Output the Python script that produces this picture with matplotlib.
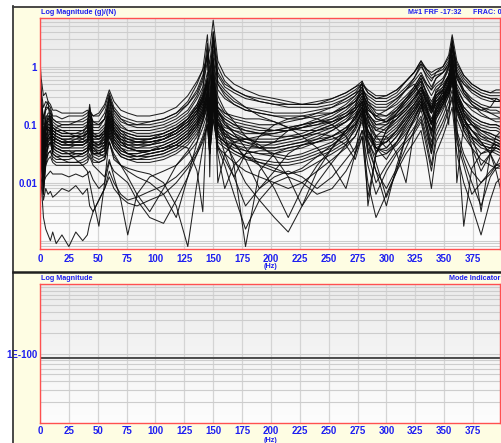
import matplotlib.pyplot as plt
import numpy as np
from matplotlib.patches import Rectangle
from matplotlib.lines import Line2D
from matplotlib.colors import LinearSegmentedColormap
from matplotlib.ticker import FixedLocator, NullFormatter

# frequency grid (Hz) shared by all FRF traces
freq_hz = [0, 1, 3, 5, 7, 9, 11, 14,
           19, 25, 31, 37, 41, 43, 46, 51,
           56, 60, 64, 70, 76, 84, 95, 107,
           118, 128, 136, 141, 145, 147, 150, 154,
           160, 168, 178, 190, 203, 215, 227, 240,
           253, 265, 273, 279, 284, 291, 300, 309,
           317, 324, 330, 335, 339, 343, 349, 354,
           357, 361, 367, 374, 382, 390, 395, 400]

# FRF magnitudes in dB re 1 (g)/(N)
frf_01 = [2, -4, -10, -9, -12, -13, -15, -15, -16, -16, -16, -16, -15, -16, -17, -16,
          -13, -8, -12, -15, -16, -17, -17, -16, -14, -10, -5, -1, 3, 6, 16, 2,
          -3, -6, -8, -10, -11, -12, -13, -13, -12, -10, -8, -6, -8, -10, -10, -8,
          -5, -2, 1, -1, -2, -1, 0, 4, 11, 2, -3, -6, -8, -9, -9, -9]
frf_02 = [-2, -8, -14, -12, -13, -14, -17, -17, -18, -17, -17, -17, -16, -15, -17, -17,
          -14, -9, -14, -17, -18, -19, -19, -18, -16, -12, -6, -1, 11, -2, 8, -2,
          -6, -8, -10, -11, -12, -13, -13, -13, -11, -9, -7, -5, -9, -11, -11, -9,
          -5, -2, 2, -2, -4, -3, -2, 1, 6, -1, -5, -8, -10, -11, -11, -12]
frf_03 = [0, -10, -20, -15, -14, -15, -18, -19, -19, -19, -19, -18, -17, -15, -19, -19,
          -16, -10, -15, -18, -19, -20, -20, -19, -17, -13, -8, -3, 4, 1, 12, 0,
          -5, -8, -10, -12, -13, -14, -14, -14, -13, -11, -9, -8, -10, -12, -12, -10,
          -7, -4, 0, -3, -5, -2, -1, 2, 8, 0, -4, -7, -9, -10, -10, -10]
frf_04 = [-4, -12, -18, -14, -14, -16, -18, -19, -20, -20, -19, -19, -18, -17, -19, -20,
          -18, -11, -15, -18, -20, -21, -21, -20, -18, -15, -10, -5, 8, -4, 10, -3,
          -7, -9, -11, -12, -13, -13, -13, -12, -11, -9, -7, -6, -9, -11, -10, -8,
          -5, -2, 2, -1, -3, -2, 0, 3, 8, 1, -3, -6, -8, -9, -8, -8]
frf_05 = [-8, -14, -25, -18, -16, -16, -19, -20, -21, -21, -21, -21, -20, -14, -21, -21,
          -18, -12, -17, -20, -22, -22, -22, -21, -19, -16, -11, -7, 2, -6, 6, -6,
          -9, -12, -14, -15, -16, -16, -16, -15, -14, -12, -10, -7, -12, -14, -14, -11,
          -8, -5, -2, -6, -8, -4, -2, 1, 7, -2, -6, -9, -11, -12, -12, -12]
frf_06 = [-5, -16, -30, -20, -17, -17, -20, -21, -22, -22, -22, -22, -21, -18, -22, -22,
          -20, -13, -18, -21, -22, -23, -23, -22, -20, -17, -13, -9, -2, -10, 3, -8,
          -11, -13, -15, -16, -17, -17, -17, -16, -16, -14, -12, -9, -13, -15, -15, -13,
          -10, -7, -3, -7, -10, -7, -5, -1, 4, -4, -8, -11, -13, -14, -14, -14]
frf_07 = [-10, -18, -35, -22, -18, -17, -21, -22, -23, -23, -23, -23, -22, -20, -24, -24,
          -22, -14, -19, -22, -23, -24, -24, -23, -21, -18, -14, -10, -4, -14, 2, -10,
          -15, -19, -24, -28, -26, -22, -20, -19, -19, -17, -15, -11, -15, -17, -17, -15,
          -12, -9, -5, -9, -12, -9, -7, -3, 3, -6, -10, -13, -15, -16, -16, -16]
frf_08 = [-6, -14, -22, -17, -17, -18, -21, -22, -23, -23, -23, -22, -21, -19, -23, -23,
          -21, -15, -19, -22, -24, -25, -25, -24, -22, -19, -15, -11, -6, -12, 0, -12,
          -16, -18, -19, -20, -20, -19, -18, -16, -14, -11, -9, -6, -18, -30, -22, -16,
          -12, -8, -4, -9, -14, -10, -7, -3, 2, -8, -12, -15, -17, -18, -18, -18]
frf_09 = [-12, -20, -28, -20, -19, -18, -22, -23, -24, -24, -24, -23, -20, -13, -23, -24,
          -23, -16, -20, -23, -25, -26, -26, -25, -23, -20, -16, -12, -5, -15, -2, -14,
          -17, -19, -20, -21, -22, -21, -20, -18, -16, -13, -10, -7, -12, -16, -17, -14,
          -11, -8, -5, -14, -20, -10, -8, -4, 1, -9, -14, -17, -19, -20, -20, -21]
frf_10 = [-15, -20, -30, -22, -20, -19, -23, -24, -25, -25, -25, -24, -23, -21, -25, -25,
          -24, -17, -21, -24, -26, -27, -27, -26, -24, -21, -17, -13, -8, -18, -4, -16,
          -18, -20, -22, -23, -24, -24, -23, -21, -19, -16, -13, -9, -14, -18, -19, -16,
          -13, -10, -7, -10, -13, -9, -5, 0, 10, -3, -9, -13, -16, -18, -19, -19]
frf_11 = [-9, -16, -24, -19, -20, -20, -23, -24, -25, -26, -26, -26, -25, -22, -26, -26,
          -24, -18, -22, -25, -27, -28, -28, -27, -25, -22, -18, -14, -9, -20, -6, -18,
          -22, -26, -32, -42, -36, -30, -27, -25, -22, -19, -15, -11, -16, -20, -20, -18,
          -15, -12, -8, -12, -15, -12, -10, -6, -1, -11, -16, -19, -21, -22, -22, -23]
frf_12 = [-14, -22, -32, -24, -21, -20, -24, -25, -26, -26, -26, -25, -23, -18, -26, -27,
          -26, -19, -23, -26, -28, -29, -29, -28, -27, -28, -36, -50, -10, -22, -8, -20,
          -23, -25, -26, -27, -27, -26, -25, -23, -21, -18, -15, -12, -17, -21, -22, -19,
          -16, -13, -10, -14, -16, -13, -11, -7, -2, -12, -17, -20, -22, -23, -24, -24]
frf_13 = [-18, -24, -34, -26, -22, -21, -24, -25, -26, -27, -27, -27, -26, -24, -27, -27,
          -24, -10, -22, -26, -28, -29, -30, -29, -27, -24, -20, -16, -11, -22, -8, -21,
          -24, -26, -27, -28, -28, -27, -26, -24, -22, -19, -16, -13, -20, -24, -24, -21,
          -17, -14, -11, -16, -20, -16, -13, -9, -4, -14, -19, -22, -24, -25, -25, -26]
frf_14 = [-11, -18, -26, -20, -22, -22, -24, -25, -26, -26, -26, -26, -25, -23, -27, -28,
          -27, -20, -24, -27, -28, -28, -27, -25, -22, -18, -14, -10, -4, -16, -4, -15,
          -18, -20, -21, -22, -22, -22, -21, -20, -18, -15, -12, -9, -13, -17, -19, -17,
          -14, -11, -7, -11, -14, -11, -8, -4, 2, -7, -12, -14, -15, -14, -11, -12]
frf_15 = [-20, -26, -38, -28, -24, -22, -26, -27, -28, -28, -28, -28, -27, -25, -28, -29,
          -28, -21, -25, -28, -30, -31, -31, -30, -28, -25, -21, -17, -12, -24, -10, -22,
          -25, -27, -29, -30, -30, -29, -28, -26, -24, -21, -18, -14, -22, -27, -26, -22,
          -18, -15, -12, -20, -28, -18, -14, -10, -5, -16, -22, -26, -30, -28, -26, -27]
frf_16 = [-13, -20, -30, -22, -21, -21, -25, -26, -27, -27, -27, -27, -26, -24, -27, -27,
          -26, -19, -23, -26, -27, -27, -27, -26, -24, -21, -17, -13, -7, -19, -5, -17,
          -20, -22, -24, -27, -31, -38, -48, -36, -28, -22, -17, -12, -17, -22, -23, -20,
          -16, -13, -9, -13, -16, -13, -10, -6, -1, -11, -16, -20, -23, -25, -26, -27]
frf_17 = [-22, -28, -40, -30, -26, -24, -28, -29, -30, -30, -29, -29, -28, -26, -29, -30,
          -29, -22, -26, -29, -30, -30, -29, -27, -25, -22, -18, -14, -9, -20, -7, -18,
          -21, -22, -23, -23, -22, -21, -20, -19, -18, -16, -14, -10, -16, -20, -19, -15,
          -11, -8, -4, -10, -15, -8, -6, -3, 1, -10, -15, -18, -20, -21, -21, -22]
frf_18 = [-25, -30, -42, -32, -28, -26, -30, -31, -32, -32, -31, -30, -29, -27, -30, -30,
          -29, -23, -27, -30, -31, -32, -32, -31, -29, -26, -22, -18, -13, -26, -12, -24,
          -26, -27, -28, -28, -28, -27, -26, -25, -24, -22, -20, -15, -25, -33, -45, -36,
          -24, -18, -13, -18, -24, -16, -12, -8, -3, -14, -20, -24, -27, -28, -28, -29]
frf_19 = [-16, -24, -36, -26, -24, -23, -27, -28, -29, -29, -30, -30, -29, -27, -30, -30,
          -27, -20, -25, -28, -30, -31, -30, -29, -27, -24, -20, -16, -10, -22, -8, -20,
          -22, -24, -26, -28, -30, -31, -30, -28, -26, -22, -18, -13, -22, -28, -32, -26,
          -20, -16, -12, -17, -22, -16, -12, -7, -2, -12, -18, -24, -34, -30, -27, -28]
frf_20 = [-24, -30, -44, -32, -27, -26, -30, -31, -31, -31, -31, -31, -30, -28, -31, -32,
          -31, -24, -28, -31, -32, -33, -33, -32, -30, -27, -23, -19, -14, -26, -12, -24,
          -26, -28, -29, -30, -31, -32, -31, -29, -27, -24, -20, -15, -24, -29, -28, -24,
          -20, -16, -12, -16, -20, -15, -11, -6, 0, -20, -55, -35, -30, -29, -29, -30]
frf_21 = [-26, -32, -44, -34, -30, -29, -32, -33, -33, -33, -33, -33, -32, -30, -33, -33,
          -32, -26, -31, -34, -35, -36, -37, -40, -48, -62, -40, -28, -20, -30, -14, -26,
          -28, -30, -32, -33, -34, -34, -33, -31, -29, -26, -22, -17, -26, -31, -30, -27,
          -23, -19, -15, -22, -28, -20, -15, -10, -6, -18, -24, -28, -32, -34, -35, -35]
frf_22 = [-28, -32, -38, -34, -32, -31, -33, -34, -34, -34, -34, -34, -33, -31, -34, -36,
          -38, -32, -38, -46, -58, -44, -38, -36, -34, -30, -26, -21, -16, -27, -14, -25,
          -27, -29, -31, -33, -35, -37, -36, -33, -30, -27, -24, -18, -30, -40, -34, -29,
          -25, -21, -17, -24, -30, -22, -17, -12, -8, -22, -30, -36, -40, -37, -34, -33]
frf_23 = [-30, -34, -40, -38, -37, -36, -37, -37, -37, -38, -37, -38, -37, -36, -39, -42,
          -40, -33, -36, -38, -40, -46, -52, -54, -46, -38, -30, -25, -20, -30, -18, -28,
          -30, -33, -36, -38, -40, -42, -40, -36, -32, -28, -24, -19, -28, -36, -42, -35,
          -28, -22, -18, -26, -34, -24, -19, -14, -10, -24, -32, -40, -48, -38, -35, -34]
frf_24 = [-32, -38, -46, -42, -44, -43, -45, -44, -42, -43, -41, -44, -42, -48, -50, -46,
          -42, -36, -40, -44, -46, -45, -43, -41, -38, -34, -29, -24, -18, -28, -16, -27,
          -32, -38, -48, -42, -38, -36, -38, -42, -38, -32, -28, -22, -34, -44, -36, -30,
          -26, -23, -19, -28, -36, -26, -21, -15, -11, -26, -34, -44, -40, -36, -34, -34]
frf_25 = [-30, -40, -52, -56, -58, -60, -57, -61, -58, -62, -57, -60, -58, -54, -50, -46,
          -42, -38, -42, -45, -47, -48, -46, -44, -40, -35, -30, -26, -20, -30, -18, -28,
          -34, -44, -56, -46, -40, -38, -40, -44, -42, -36, -30, -24, -40, -52, -44, -36,
          -30, -26, -22, -32, -42, -30, -24, -18, -14, -30, -40, -48, -58, -46, -40, -38]
frf_26 = [-12, -18, -28, -22, -20, -20, -23, -24, -25, -25, -24, -24, -23, -21, -24, -25,
          -23, -17, -21, -24, -25, -25, -25, -24, -22, -19, -15, -11, -6, -16, -3, -15,
          -19, -23, -28, -34, -42, -52, -42, -34, -28, -22, -17, -12, -48, -30, -22, -18,
          -14, -11, -7, -12, -16, -12, -9, -5, 0, -10, -15, -19, -22, -24, -25, -26]
frf_27 = [-7, -14, -24, -18, -18, -19, -22, -23, -24, -24, -24, -24, -23, -20, -24, -24,
          -22, -16, -20, -23, -24, -25, -25, -24, -22, -19, -15, -11, -6, -17, -3, -16,
          -19, -21, -22, -23, -23, -22, -21, -19, -17, -14, -11, -8, -11, -13, -13, -11,
          -8, -6, -10, -22, -30, -14, -8, -3, 3, -8, -16, -28, -50, -30, -24, -22]
frf_28 = [-18, -24, -32, -26, -24, -23, -26, -27, -28, -28, -27, -27, -26, -24, -28, -28,
          -26, -19, -23, -26, -27, -27, -26, -25, -23, -20, -16, -12, -7, -18, -4, -16,
          -24, -34, -62, -36, -30, -28, -27, -26, -24, -21, -18, -14, -20, -25, -25, -22,
          -18, -14, -10, -14, -18, -14, -11, -7, -3, -13, -18, -22, -26, -30, -36, -44]
frf_29 = [-20, -26, -36, -28, -25, -24, -27, -28, -29, -30, -32, -34, -36, -40, -46, -55,
          -40, -24, -28, -31, -32, -32, -31, -30, -28, -25, -21, -17, -12, -24, -10, -30,
          -42, -34, -30, -29, -29, -28, -27, -26, -25, -23, -20, -16, -22, -26, -26, -23,
          -19, -15, -11, -15, -19, -15, -12, -8, -4, -14, -20, -24, -27, -28, -28, -29]
frf_30 = [-1, -10, -18, -14, -12, -20, -30, -21, -20, -20, -20, -20, -19, -17, -20, -20,
          -18, -11, -16, -19, -20, -20, -19, -18, -16, -13, -9, -4, 4, -8, 10, -5,
          -8, -11, -14, -17, -19, -21, -22, -22, -21, -19, -17, -14, -17, -19, -18, -15,
          -11, -7, -3, -6, -8, -6, -4, 0, 6, -4, -9, -12, -14, -15, -15, -16]
frf_31 = [-10, -17, -26, -20, -19, -19, -22, -23, -24, -24, -24, -24, -22, -16, -24, -24,
          -22, -15, -19, -22, -23, -24, -24, -23, -21, -18, -13, -8, 6, -38, 12, -6,
          -10, -13, -15, -16, -17, -18, -18, -17, -16, -14, -12, -8, -14, -18, -19, -17,
          -14, -11, -8, -12, -14, -10, -8, -20, 9, -2, -8, -12, -14, -16, -17, -18]
frf_32 = [-14, -21, -30, -24, -22, -21, -24, -25, -26, -26, -26, -26, -25, -22, -26, -26,
          -25, -18, -22, -25, -26, -26, -26, -25, -23, -20, -16, -11, -4, -14, 4, -40,
          -30, -26, -25, -25, -25, -24, -24, -22, -20, -17, -14, -5, -30, -24, -21, -18,
          -15, -11, -8, -12, -15, -12, -9, -5, 5, -40, -20, -20, -22, -23, -24, -25]
frf_33 = [-16, -22, -30, -24, -22, -22, -25, -26, -27, -27, -27, -27, -26, -23, -27, -28,
          -27, -20, -24, -27, -28, -29, -29, -28, -26, -23, -19, -15, -9, -21, -7, -19,
          -23, -27, -31, -34, -36, -37, -35, -31, -27, -23, -19, -14, -19, -22, -20, -16,
          -12, -9, -6, -11, -15, -11, -8, -4, 2, -9, -14, -17, -19, -20, -20, -21]
frf_34 = [-22, -28, -38, -30, -27, -26, -29, -30, -31, -31, -30, -30, -29, -27, -30, -31,
          -30, -23, -27, -30, -31, -31, -30, -29, -27, -24, -20, -16, -11, -23, -9, -22,
          -30, -38, -30, -24, -20, -18, -17, -18, -20, -24, -30, -22, -26, -36, -48, -34,
          -24, -18, -13, -20, -26, -18, -13, -8, -3, -14, -20, -24, -26, -27, -27, -28]
frf_35 = [-17, -23, -32, -25, -23, -22, -25, -26, -27, -27, -26, -26, -25, -22, -26, -27,
          -25, -18, -22, -25, -26, -26, -25, -23, -21, -18, -14, -10, -5, -17, -2, -14,
          -16, -17, -18, -18, -19, -21, -24, -28, -34, -42, -30, -16, -24, -28, -26, -22,
          -17, -13, -9, -15, -20, -14, -10, -6, -1, -12, -18, -22, -25, -26, -27, -27]
frf_36 = [-26, -30, -36, -32, -30, -29, -31, -32, -32, -33, -33, -32, -31, -28, -32, -33,
          -32, -26, -30, -34, -38, -44, -50, -42, -34, -29, -24, -19, -13, -25, -11, -23,
          -26, -29, -31, -32, -33, -33, -32, -30, -28, -25, -21, -16, -23, -28, -29, -26,
          -22, -18, -14, -18, -22, -17, -13, -9, -5, -15, -21, -25, -28, -29, -30, -31]
frf_37 = [-8, -15, -24, -19, -18, -18, -21, -22, -22, -23, -24, -25, -26, -25, -28, -30,
          -31, -26, -32, -34, -36, -38, -40, -44, -52, -38, -26, -18, -10, -22, -6, -20,
          -24, -25, -25, -24, -23, -22, -21, -20, -19, -17, -15, -12, -18, -24, -28, -24,
          -19, -15, -11, -15, -19, -15, -11, -7, -2, -12, -18, -22, -26, -30, -34, -30]
frf_38 = [-12, -19, -28, -22, -21, -21, -24, -25, -26, -26, -25, -25, -24, -21, -25, -25,
          -23, -17, -21, -24, -25, -26, -26, -25, -23, -20, -16, -12, -6, -17, -3, -15,
          -20, -23, -25, -26, -26, -25, -24, -23, -24, -27, -32, -24, -45, -30, -24, -30,
          -40, -22, -14, -18, -22, -15, -10, -6, 0, -10, -16, -20, -24, -26, -27, -28]
frf_39 = [-20, -26, -34, -28, -26, -25, -28, -29, -30, -30, -30, -30, -29, -26, -30, -30,
          -29, -22, -26, -29, -30, -30, -29, -28, -26, -23, -19, -15, -9, -21, -7, -19,
          -22, -24, -25, -26, -26, -25, -24, -22, -20, -17, -14, -10, -15, -17, -15, -12,
          -8, -4, 1, -4, -7, -4, -2, 0, 4, -3, -6, -8, -10, -11, -12, -12]
frf_40 = [-19, -25, -33, -27, -25, -24, -27, -28, -29, -29, -29, -29, -28, -26, -29, -29,
          -28, -21, -25, -28, -29, -29, -29, -28, -26, -23, -19, -15, -9, -21, -7, -19,
          -26, -32, -40, -46, -52, -57, -48, -40, -33, -27, -21, -15, -22, -28, -30, -26,
          -21, -17, -13, -18, -23, -17, -13, -9, -4, -15, -22, -28, -36, -30, -28, -29]

# mode indicator panel (single flat trace)
mode_ind_hz = [0, 400]
mode_ind_val = [8.5e-101, 8.5e-101]

freq_ticks = list(range(0, 400, 25))

frf_traces = [frf_01, frf_02, frf_03, frf_04, frf_05, frf_06, frf_07, frf_08,
              frf_09, frf_10, frf_11, frf_12, frf_13, frf_14, frf_15, frf_16,
              frf_17, frf_18, frf_19, frf_20, frf_21, frf_22, frf_23, frf_24,
              frf_25, frf_26, frf_27, frf_28, frf_29, frf_30, frf_31, frf_32,
              frf_33, frf_34, frf_35, frf_36, frf_37, frf_38, frf_39, frf_40]

plt.rcParams['font.family'] = ['Liberation Sans Narrow', 'Liberation Sans', 'DejaVu Sans']
plt.rcParams['font.weight'] = 'bold'

W, H = 502, 443
BLUE = '#1f1ff0'
CREAM = '#fefde3'

def fx(px):
    return px / W

def fy(py):
    return 1 - py / H

fig = plt.figure(figsize=(W / 100, H / 100), dpi=100)
fig.patch.set_facecolor('white')
fig.add_artist(Rectangle((fx(13), 0), 1 - fx(13), fy(6), transform=fig.transFigure,
                         facecolor=CREAM, edgecolor='none', zorder=0))
fig.add_artist(Line2D([fx(13.5), fx(13.5)], [0, fy(6)], color='#3a3a3a', lw=1.3))
fig.add_artist(Line2D([fx(13), 1], [fy(6.5), fy(6.5)], color='#3a3a3a', lw=1.3))
fig.add_artist(Line2D([fx(13), 1], [fy(271.5), fy(271.5)], color='#202020', lw=1.8))

grad_cmap = LinearSegmentedColormap.from_list('bg', ['#ebebeb', '#fdfdfd'])
grad = np.linspace(0, 1, 256).reshape(-1, 1)

def panel(top, bottom, xpad):
    rect = [fx(40), fy(bottom), (500 - 40) / W, (bottom - top) / H]
    bg = fig.add_axes(rect)
    bg.imshow(grad, aspect='auto', cmap=grad_cmap, extent=[0, 1, 0, 1], origin='upper')
    bg.axis('off')
    ax = fig.add_axes(rect)
    ax.set_facecolor('none')
    ax.set_yscale('log')
    ax.set_xlim(0, 398.4)
    ax.set_xticks(freq_ticks)
    ax.set_xticklabels([str(t) for t in freq_ticks])
    ax.tick_params(which='both', length=0, labelsize=7, labelcolor=BLUE)
    ax.tick_params(axis='x', pad=xpad)
    ax.tick_params(axis='y', pad=2)
    ax.grid(True, which='major', axis='x', color='#d4d4d4', lw=0.9)
    ax.grid(True, which='both', axis='y', color='#cdcdcd', lw=0.8)
    for s in ax.spines.values():
        s.set_color('#ff5050')
        s.set_linewidth(1.0)
    return ax

# upper panel: FRF log magnitude
ax1 = panel(18, 249, 3.5)
for tr in frf_traces:
    assert len(tr) == len(freq_hz)
    ax1.plot(freq_hz, 10 ** (np.array(tr) / 20.0), color='#0a0a0a', lw=0.75, alpha=0.9)
ax1.set_ylim(7.2e-4, 6.9)
ax1.yaxis.set_major_locator(FixedLocator([0.01, 0.1, 1]))
ax1.set_yticklabels(['0.01', '0.1', '1'])
ax1.yaxis.set_minor_locator(FixedLocator([k * 10.0 ** e for e in range(-4, 1) for k in range(1, 10)]))
ax1.yaxis.set_minor_formatter(NullFormatter())

# lower panel: mode indicator
ax2 = panel(284, 423, 2.0)
ax2.plot(mode_ind_hz, mode_ind_val, color='#404040', lw=1.3)
ax2.set_ylim(1e-101, 1e-99)
ax2.yaxis.set_major_locator(FixedLocator([1e-100]))
ax2.set_yticklabels(['1E-100'])
ax2.yaxis.set_minor_locator(FixedLocator([k * 10.0 ** e for e in (-101, -100) for k in range(2, 10)]))
ax2.yaxis.set_minor_formatter(NullFormatter())

# header texts
hs = 5.2
fig.text(fx(41), fy(12), 'Log Magnitude (g)/(N)', color=BLUE, fontsize=hs, ha='left', va='center')
fig.text(fx(408), fy(12), 'M#1 FRF -17:32', color=BLUE, fontsize=hs, ha='left', va='center')
fig.text(fx(473), fy(12), 'FRAC: 0', color=BLUE, fontsize=hs, ha='left', va='center')
fig.text(fx(41), fy(278), 'Log Magnitude', color=BLUE, fontsize=hs, ha='left', va='center')
fig.text(fx(500), fy(278), 'Mode Indicator', color=BLUE, fontsize=hs, ha='right', va='center')
fig.text(fx(271), fy(267), '(Hz)', color=BLUE, fontsize=hs, ha='center', va='center')
fig.text(fx(271), fy(436.5), '(Hz)', color=BLUE, fontsize=hs, ha='center', va='top')

fig.savefig('out.png', dpi=100, facecolor='white')
